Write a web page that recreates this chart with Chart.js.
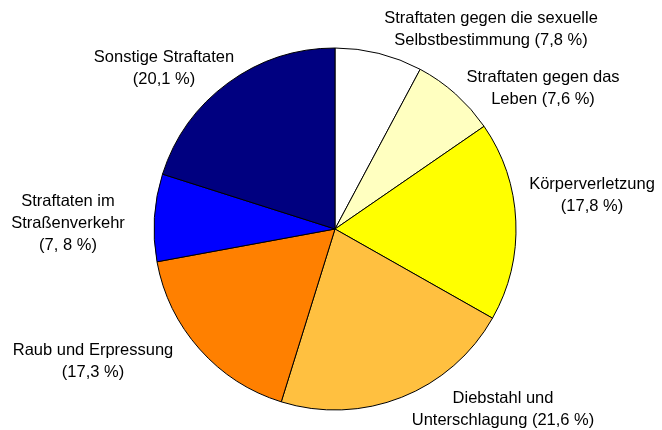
<!DOCTYPE html>
<html>
<head>
<meta charset="utf-8">
<style>
    html, body { margin: 0; padding: 0; background: #fff; }
    .container { width: 662px; height: 430px; }
</style>
<script src="https://cdn.jsdelivr.net/npm/chart.js"></script>
</head>
<body>
<div class="container">
    <canvas id="myChart1" width="662" height="430"></canvas>
</div>

<script>
    // Anteile der Straftaten (Prozent), im Uhrzeigersinn ab 12 Uhr
    const categories = [
        ['Straftaten gegen die sexuelle', 'Selbstbestimmung (7,8 %)'],
        ['Straftaten gegen das', 'Leben (7,6 %)'],
        ['Körperverletzung', '(17,8 %)'],
        ['Diebstahl und', 'Unterschlagung (21,6 %)'],
        ['Raub und Erpressung', '(17,3 %)'],
        ['Straftaten im', 'Straßenverkehr', '(7, 8 %)'],
        ['Sonstige Straftaten', '(20,1 %)']
    ]
    const shares = [7.8, 7.6, 17.8, 21.6, 17.3, 7.8, 20.1]
    const sliceColors = ['#FFFFFF', '#FFFFC0', '#FFFF00', '#FFC040', '#FF8000', '#0000FF', '#000080']

    // where each label block sits (centre x, first line y)
    const labelAnchors = [[491, 18], [543, 77], [592, 184], [503, 398], [93, 350], [68, 201], [164, 57]]

    const labelPlugin = {
        id: 'outsideLabels',
        afterDraw(chart) {
            const ctx = chart.ctx
            ctx.save()
            ctx.font = '16.5px "Liberation Sans", Arial, sans-serif'
            ctx.fillStyle = '#000'
            ctx.textAlign = 'center'
            ctx.textBaseline = 'middle'
            chart.data.labels.forEach((lines, i) => {
                const [x, y] = labelAnchors[i]
                lines.forEach((line, j) => ctx.fillText(line, x, y + j * 22))
            })
            ctx.restore()
        }
    }

    var ctx1 = document.getElementById('myChart1').getContext('2d');
    var chart = new Chart(ctx1, {
        type: 'pie',
        data: {
            labels: categories,
            datasets: [{
                data: shares,
                backgroundColor: sliceColors,
                borderColor: '#000',
                borderWidth: 1,
                hoverOffset: 0
            }]
        },
        options: {
            responsive: false,
            maintainAspectRatio: false,
            animation: false,
            radius: 181,
            layout: { padding: { left: 154, right: 146, top: 48, bottom: 20 } },
            plugins: {
                legend: { display: false },
                tooltip: { enabled: false }
            }
        },
        plugins: [labelPlugin]
    });
</script>
</body>
</html>
